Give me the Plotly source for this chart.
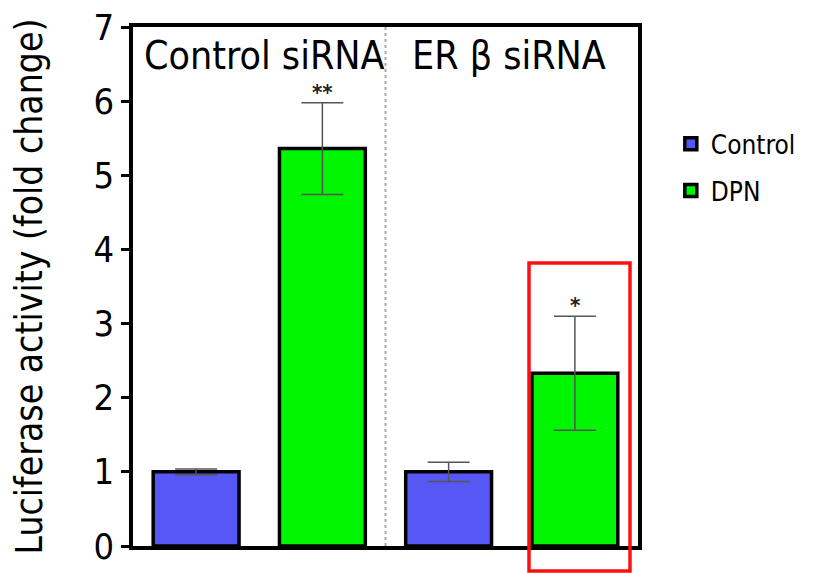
import plotly.graph_objects as go

groups = ["Control siRNA", "ER β siRNA"]
series_names = ["Control", "DPN"]
control_vals = [1.0, 1.0]
control_err = [0.04, 0.13]
dpn_vals = [5.36, 2.33]
dpn_err = [0.62, 0.77]
significance = ["**", "*"]
y_ticks = [0, 1, 2, 3, 4, 5, 6, 7]

FONT = "Liberation Sans Narrow, DejaVu Sans Condensed, Arial Narrow, DejaVu Sans, sans-serif"
colors = {"Control": "#5757f5", "DPN": "#00f500"}

# page body adds an 8px offset; compensate in margins
L, R, T, B = 125, 199, 19, 27
W, H = 829, 565
PW, PH = W - L - R, H - T - B

x_idx = [0, 1]
fig = go.Figure()
for name, vals, errs in [("Control", control_vals, control_err), ("DPN", dpn_vals, dpn_err)]:
    fig.add_trace(go.Bar(
        x=x_idx, y=vals, name=name, legendgroup=name,
        marker=dict(color=colors[name], line=dict(color="black", width=3.5)),
        error_y=dict(type="data", array=errs, visible=True, color="#555555",
                     thickness=1.5, width=21),
    ))

# significance stars above DPN bars
for i, (v, e, s) in enumerate(zip(dpn_vals, dpn_err, significance)):
    fig.add_annotation(x=i + 0.25, y=v + e, text="<b>" + s + "</b>", showarrow=False,
                       yanchor="bottom", yshift=-4,
                       font=dict(family=FONT, size=22, color="#222"))

# group labels
for i, g in enumerate(groups):
    fig.add_annotation(x=i + (0.02 if i == 0 else -0.01), y=6.62, text=g, showarrow=False,
                       font=dict(family=FONT, size=39, color="black"))

# divider
fig.add_shape(type="line", xref="x", yref="paper", x0=0.5, x1=0.5, y0=0, y1=1,
              line=dict(color="#aaaaaa", width=2, dash="dot"))

# red highlight box
fig.add_shape(type="rect", xref="paper", yref="paper",
              x0=(521 - L) / PW, x1=(622 - L) / PW,
              y0=(H - B - 563) / PH, y1=(H - B - 255) / PH,
              line=dict(color="#ff1010", width=3.5), fillcolor="rgba(0,0,0,0)")

fig.update_layout(
    template="none",
    width=W, height=H,
    margin=dict(l=L, r=R, t=T, b=B, autoexpand=False),
    paper_bgcolor="white", plot_bgcolor="white",
    barmode="group", bargap=0.0, bargroupgap=0.32,
    showlegend=True,
    legend=dict(x=1.065, y=0.82, xanchor="left", yanchor="top",
                font=dict(family=FONT, size=26, color="black"),
                traceorder="grouped", tracegroupgap=10, bgcolor="rgba(0,0,0,0)"),
    font=dict(family=FONT, color="black"),
)
fig.update_xaxes(range=[-0.5, 1.5], showticklabels=False, ticks="", automargin=False,
                 showline=True, linecolor="black", linewidth=3.5, mirror=True,
                 showgrid=False, zeroline=False)
fig.update_yaxes(range=[0, 7], tickvals=y_ticks, ticks="outside", ticklen=8,
                 tickwidth=3, tickcolor="black", automargin=False,
                 ticklabeloverflow="allow",
                 showline=True, linecolor="black", linewidth=3.5, mirror=True,
                 showgrid=False, zeroline=False,
                 tickfont=dict(family=FONT, size=36, color="black"),
                 title=dict(text="Luciferase activity (fold change)", standoff=40,
                            font=dict(family=FONT, size=37, color="black")))

fig.write_html("out.html")
